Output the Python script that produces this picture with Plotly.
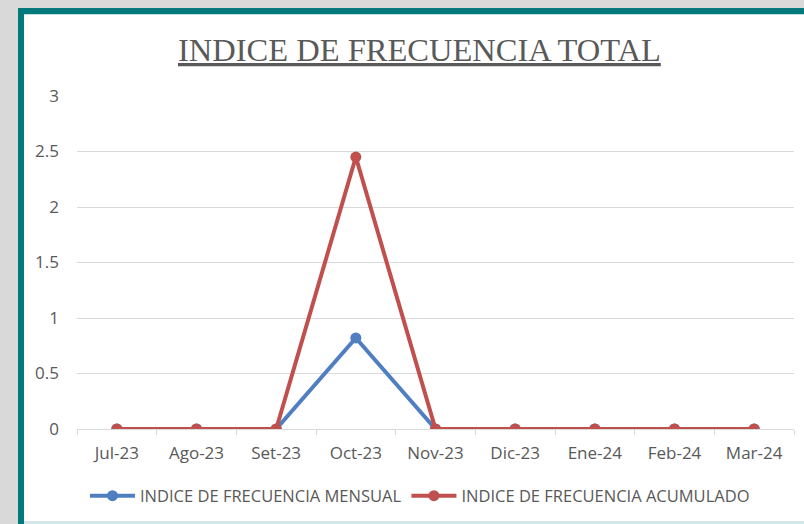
import plotly.graph_objects as go

months = ["Jul-23", "Ago-23", "Set-23", "Oct-23", "Nov-23", "Dic-23", "Ene-24", "Feb-24", "Mar-24"]
mensual = [0, 0, 0, 0.82, 0, 0, 0, 0, 0]
acumulado = [0, 0, 0, 2.45, 0, 0, 0, 0, 0]
y_ticks = [0, 0.5, 1, 1.5, 2, 2.5, 3]
y_labels = ["0", "0.5", "1", "1.5", "2", "2.5", "3"]

W, H = 804, 524
L, R, T, B = 77, 10, 96, 95
pw, ph = W - L - R, H - T - B

def px(x):
    return (x - L) / pw

def py(y):
    return (H - B - y) / ph

BLUE = "#4F7EC1"
RED = "#C0504D"
GRAY = "#595959"
FONT = "Open Sans, sans-serif"

fig = go.Figure()
fig.add_trace(go.Scatter(x=months, y=mensual, mode="lines+markers", name="INDICE DE FRECUENCIA MENSUAL",
                         line=dict(color=BLUE, width=4), marker=dict(color=BLUE, size=11)))
fig.add_trace(go.Scatter(x=months, y=acumulado, mode="lines+markers", name="INDICE DE FRECUENCIA ACUMULADO",
                         line=dict(color=RED, width=4), marker=dict(color=RED, size=11)))

shapes = [
    dict(type="rect", xref="paper", yref="paper", x0=px(0), x1=px(18), y0=py(H), y1=py(0),
         fillcolor="#D9D9D9", line=dict(width=0), layer="below"),
    dict(type="rect", xref="paper", yref="paper", x0=px(0), x1=px(W), y0=py(8), y1=py(0),
         fillcolor="#D9D9D9", line=dict(width=0), layer="below"),
    dict(type="rect", xref="paper", yref="paper", x0=px(18), x1=px(24), y0=py(H), y1=py(8),
         fillcolor="#047A7C", line=dict(width=0), layer="below"),
    dict(type="rect", xref="paper", yref="paper", x0=px(18), x1=px(W), y0=py(14), y1=py(8),
         fillcolor="#047A7C", line=dict(width=0), layer="below"),
    dict(type="rect", xref="paper", yref="paper", x0=px(24), x1=px(W), y0=py(15), y1=py(14),
         fillcolor="#BFE0E2", line=dict(width=0), layer="below"),
    dict(type="rect", xref="paper", yref="paper", x0=px(24), x1=px(W), y0=py(H), y1=py(H - 3),
         fillcolor="#D3E6EA", line=dict(width=0), layer="below"),
]

fig.update_layout(
    width=W, height=H,
    margin=dict(l=L, r=R, t=T, b=B, pad=0),
    paper_bgcolor="white", plot_bgcolor="white",
    shapes=shapes,
    showlegend=True,
    legend=dict(orientation="h", x=px(420), xanchor="center", y=py(496), yanchor="middle",
                font=dict(family=FONT, size=16.5, color=GRAY),
                itemwidth=45, bgcolor="rgba(0,0,0,0)"),
    annotations=[dict(text="<u>INDICE DE FRECUENCIA TOTAL</u>", xref="paper", yref="paper",
                      x=px(419), y=py(50), xanchor="center", yanchor="middle", showarrow=False,
                      font=dict(family="Liberation Serif, serif", size=32.5, color=GRAY))],
    xaxis=dict(type="category", showgrid=False, showline=True, linecolor="#D9D9D9", linewidth=1,
               ticks="outside", tickson="boundaries", ticklen=5, tickcolor="#D9D9D9",
               tickfont=dict(family=FONT, size=17, color=GRAY), ticklabelstandoff=9,
               range=[-0.5, 8.5], zeroline=False),
    yaxis=dict(range=[0, 3], tickvals=y_ticks, ticktext=y_labels, showgrid=True, gridcolor="#D9D9D9",
               gridwidth=1, zeroline=False, showline=False, ticks="", ticklabelstandoff=17,
               tickfont=dict(family=FONT, size=17, color=GRAY), fixedrange=True),
)

fig.write_html("out.html", config={"displayModeBar": False},
               post_script="document.body.style.margin='0';document.body.style.overflow='hidden';")
